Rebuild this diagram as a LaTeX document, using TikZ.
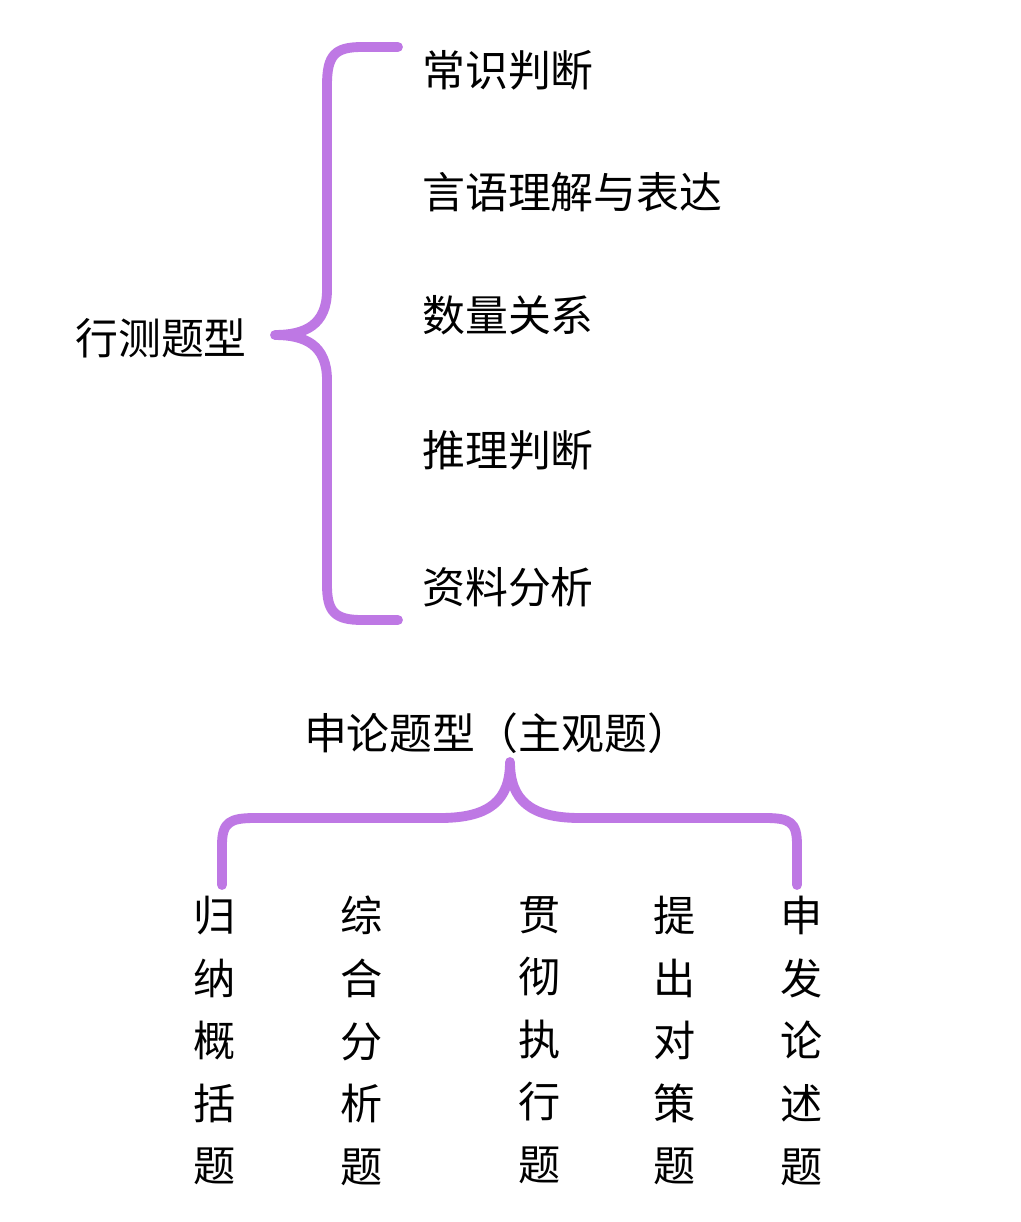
\documentclass[tikz,border=0pt]{standalone}
\usepackage{fontspec}
\newfontfamily\cjk{Noto Sans CJK SC}
\definecolor{brace}{RGB}{190,120,228}
\begin{document}
\begin{tikzpicture}[x=0.025cm,y=-0.025cm,
  lbl/.style={font=\cjk\fontsize{30.5}{36}\selectfont,inner sep=0pt,text=black},
  br/.style={draw=brace,line width=7pt,line cap=round,line join=round}]
\useasboundingbox[fill=white] (0,0) rectangle (1020,1222);
\draw[br] (398,47) -- (362,47) .. controls (335,47) and (327,55) .. (327,85) -- (327,290)
  .. controls (327,325) and (305,335) .. (275,335)
  .. controls (305,335) and (327,345) .. (327,380) -- (327,585)
  .. controls (327,612) and (335,620) .. (362,620) -- (398,620);
\node[lbl,anchor=west] (a) at (422,70) {常识判断};
\node[lbl,anchor=west] (b) at (422,192) {言语理解与表达};
\node[lbl,anchor=west] (c) at (422,315) {数量关系};
\node[lbl,anchor=west] (d) at (422,450) {推理判断};
\node[lbl,anchor=west] (e) at (422,587) {资料分析};
\node[lbl,anchor=west] (xc) at (75,338) {行测题型};
\node[lbl] (sl) at (497,733) {申论题型（主观题）};
\draw[br] (222,885) -- (222,845) .. controls (222,822) and (230,818) .. (255,818) -- (440,818)
  .. controls (490,818) and (510,800) .. (510,762)
  .. controls (510,800) and (530,818) .. (580,818) -- (765,818)
  .. controls (790,818) and (797,822) .. (797,845) -- (797,885);
\foreach \x/\t [count=\i] in {215/{归\\纳\\概\\括\\题},362/{综\\合\\分\\析\\题},540/{贯\\彻\\执\\行\\题},675/{提\\出\\对\\策\\题},802/{申\\发\\论\\述\\题}}
  \node[lbl,align=center,font=\cjk\fontsize{30}{44.5}\selectfont,anchor=north] (col\i) at (\x,896) {\t};
\end{tikzpicture}
\end{document}
